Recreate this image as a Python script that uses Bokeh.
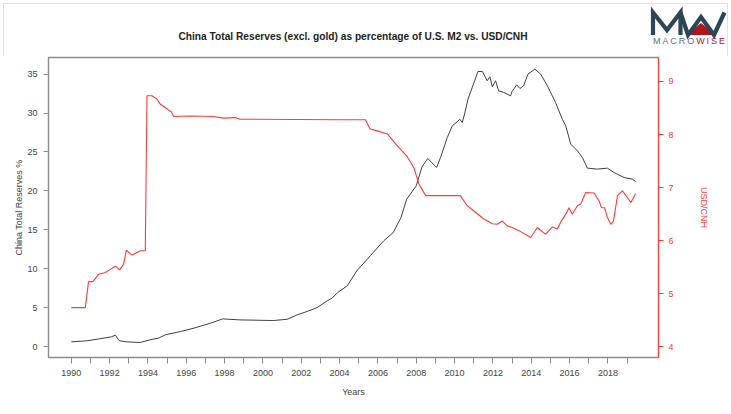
import math
from bokeh.plotting import figure
from bokeh.layouts import column
from bokeh.models import (Range1d, LinearAxis, FixedTicker, Div)
from bokeh.embed import file_html
from bokeh.resources import INLINE

# ---- data ----
res_years = [1990.0, 1990.8, 1991.5, 1992.1, 1992.3, 1992.5, 1992.9, 1993.6, 1994.1, 1994.56,
             1994.9, 1995.7, 1996.4, 1997.26, 1997.9, 1998.8, 2000.56, 2001.26, 2001.79, 2002.3,
             2002.83, 2003.35, 2003.6, 2003.9, 2004.4, 2004.9, 2005.6, 2006.3, 2006.8, 2007.2,
             2007.5, 2008.0, 2008.3, 2008.6, 2009.06, 2009.27, 2009.62, 2009.88, 2010.14, 2010.27,
             2010.4, 2010.52, 2010.7, 2010.92, 2011.22, 2011.45, 2011.7, 2011.84, 2011.97, 2012.14,
             2012.3, 2012.57, 2012.92, 2013.0, 2013.24, 2013.41, 2013.6, 2013.83, 2014.19, 2014.49,
             2014.84, 2015.27, 2015.62, 2015.8, 2016.06, 2016.41, 2016.67, 2016.93, 2017.45, 2017.97,
             2018.32, 2018.84, 2019.28, 2019.45]
res_pct = [0.6, 0.73, 1.0, 1.25, 1.46, 0.75, 0.6, 0.52, 0.86, 1.08,
           1.5, 1.93, 2.36, 3.0, 3.55, 3.42, 3.34, 3.5, 4.07, 4.5,
           5.0, 5.87, 6.2, 6.94, 7.8, 9.73, 11.65, 13.58, 14.65, 16.57,
           18.93, 20.65, 23.09, 24.16, 23.0, 24.3, 26.85, 28.36, 28.87, 29.2,
           28.78, 29.86, 31.78, 33.28, 35.33, 35.33, 34.14, 34.65, 33.37, 34.14,
           32.85, 32.64, 32.2, 32.76, 33.62, 33.15, 33.5, 35.0, 35.64, 35.0,
           33.5, 31.35, 29.2, 28.36, 26.0, 25.14, 24.28, 22.92, 22.79, 22.92,
           22.36, 21.71, 21.5, 21.2]

fx_years = [1990.0, 1990.73, 1990.9, 1991.13, 1991.43, 1991.78, 1992.04, 1992.3, 1992.52, 1992.73,
            1992.87, 1993.17, 1993.6, 1993.86, 1993.95, 1994.2, 1994.44, 1994.65, 1994.9, 1995.08,
            1995.22, 1995.34, 1996.2, 1997.43, 1997.95, 1998.56, 1998.8, 2004.05, 2005.35, 2005.58,
            2005.96, 2006.5, 2007.0, 2007.5, 2007.87, 2008.14, 2008.49, 2009.27, 2010.3, 2010.66,
            2011.0, 2011.53, 2011.97, 2012.23, 2012.49, 2012.75, 2013.0, 2013.36, 2013.97, 2014.32,
            2014.75, 2015.1, 2015.36, 2015.57, 2015.85, 2015.97, 2016.14, 2016.41, 2016.58, 2016.84,
            2017.28, 2017.54, 2017.67, 2017.83, 2017.97, 2018.15, 2018.29, 2018.5, 2018.76, 2019.02,
            2019.2, 2019.45]
fx_rate = [4.74, 4.74, 5.23, 5.23, 5.37, 5.40, 5.46, 5.52, 5.45, 5.56,
           5.82, 5.73, 5.81, 5.81, 8.73, 8.73, 8.68, 8.57, 8.51, 8.46,
           8.43, 8.34, 8.35, 8.34, 8.31, 8.32, 8.29, 8.28, 8.28, 8.11,
           8.07, 8.01, 7.79, 7.60, 7.38, 7.07, 6.85, 6.85, 6.85, 6.66,
           6.56, 6.41, 6.32, 6.31, 6.37, 6.28, 6.25, 6.19, 6.06, 6.25,
           6.12, 6.26, 6.22, 6.37, 6.53, 6.62, 6.50, 6.66, 6.69, 6.91,
           6.90, 6.75, 6.62, 6.62, 6.44, 6.31, 6.37, 6.85, 6.94, 6.81,
           6.72, 6.89]

x_tick_years = list(range(1990, 2020))
left_ticks = [0, 5, 10, 15, 20, 25, 30, 35]
right_ticks = [4, 5, 6, 7, 8, 9]

title_text = "China Total Reserves (excl. gold) as percentage of U.S. M2 vs. USD/CNH"
FONT = "Liberation Sans"
RED = "#ff3b3b"
GRAY_TXT = "#444444"
LOGO_BLUE = "#2c4656"
LOGO_RED = "#b0141c"

W = 731
STRIP_H = 55          # header strip: title + logo
MAIN_H = 414 - STRIP_H
# main frame (page px): left 48, right 658, top 57, bottom 357
FL, FR, FT, FB = 48, 658, 57, 357

# ---------------- header (title + logo) ----------------
header_html = f"""
<svg xmlns="http://www.w3.org/2000/svg" width="{W}" height="{STRIP_H}" style="display:block">
  <text x="{(FL + FR) / 2}" y="40" text-anchor="middle" font-family="{FONT}" font-size="10.2"
        font-weight="bold" fill="#1e1e1e">{title_text}</text>
  <polygon points="686,35 701,23 716,35" fill="{LOGO_RED}"/>
  <polyline points="653,35 653,12.5 667,30 680.5,12.5 680.5,35" fill="none"
            stroke="{LOGO_BLUE}" stroke-width="4.2" stroke-linejoin="miter"/>
  <polyline points="680.5,12.5 688,35 701,17 714,35 724.5,12.5" fill="none"
            stroke="{LOGO_BLUE}" stroke-width="4.2" stroke-linejoin="miter"/>
  <text x="653" y="43.5" font-family="{FONT}" font-size="9" textLength="72"
        lengthAdjust="spacing"><tspan fill="#5b6e7c">MACRO</tspan><tspan fill="{LOGO_RED}">WISE</tspan></text>
</svg>
"""
hd = Div(text=header_html, width=W, height=STRIP_H, margin=0)

# ---------------- main chart ----------------
p = figure(width=W, height=MAIN_H, output_backend="svg", toolbar_location=None,
           x_range=Range1d(1988.81, 2020.64), y_range=Range1d(-1.41, 37.13),
           min_border_left=FL, min_border_right=W - FR,
           min_border_top=FT - STRIP_H, min_border_bottom=414 - FB, margin=0)
p.extra_y_ranges = {"fx": Range1d(3.80, 9.452)}
p.xgrid.visible = False
p.ygrid.visible = False
p.outline_line_color = "#8c8c8c"
p.outline_line_width = 1.4

p.line(res_years, res_pct, line_color="#404040", line_width=1)
p.line(fx_years, fx_rate, line_color=RED, line_width=1.1, y_range_name="fx")

xa = p.xaxis[0]
xa.ticker = FixedTicker(ticks=x_tick_years)
xa.major_label_overrides = {y: (str(y) if y % 2 == 0 else "") for y in x_tick_years}
xa.axis_label = "Years"
for ax in [xa] + list(p.yaxis):
    ax.axis_line_color = "#8c8c8c"
    ax.major_tick_line_color = "#8c8c8c"
    ax.minor_tick_line_color = None
    ax.major_tick_in = 0
    ax.major_tick_out = 5
    ax.major_label_text_font = FONT
    ax.major_label_text_font_size = "9px"
    ax.major_label_text_color = GRAY_TXT
    ax.axis_label_text_font = FONT
    ax.axis_label_text_font_size = "9px"
    ax.axis_label_text_font_style = "normal"
    ax.axis_label_text_color = GRAY_TXT
xa.major_tick_out = 6
xa.major_label_standoff = 6
xa.axis_label_standoff = 8

ya = p.yaxis[0]
ya.ticker = FixedTicker(ticks=left_ticks)
ya.axis_label = "China Total Reserves %"
ya.major_label_standoff = 6
ya.axis_label_standoff = 0

ra = LinearAxis(y_range_name="fx", ticker=FixedTicker(ticks=right_ticks), axis_label="USD/CNH")
ra.axis_line_color = RED
ra.major_tick_line_color = RED
ra.minor_tick_line_color = None
ra.major_tick_in = 0
ra.major_tick_out = 5
ra.major_label_standoff = 5
ra.major_label_text_font = FONT
ra.major_label_text_font_size = "9px"
ra.major_label_text_color = RED
ra.axis_label_text_font = FONT
ra.axis_label_text_font_size = "9px"
ra.axis_label_text_font_style = "normal"
ra.axis_label_text_color = RED
ra.axis_label_standoff = 22
p.add_layout(ra, "right")

# light page border seen in the reference (drawn as an inset outline, no layout effect)
layout = column(hd, p, spacing=0,
                styles={"outline": "1px solid #e2e2e2", "outline-offset": "-4px"})
open("out.html", "w").write(file_html(layout, INLINE))
